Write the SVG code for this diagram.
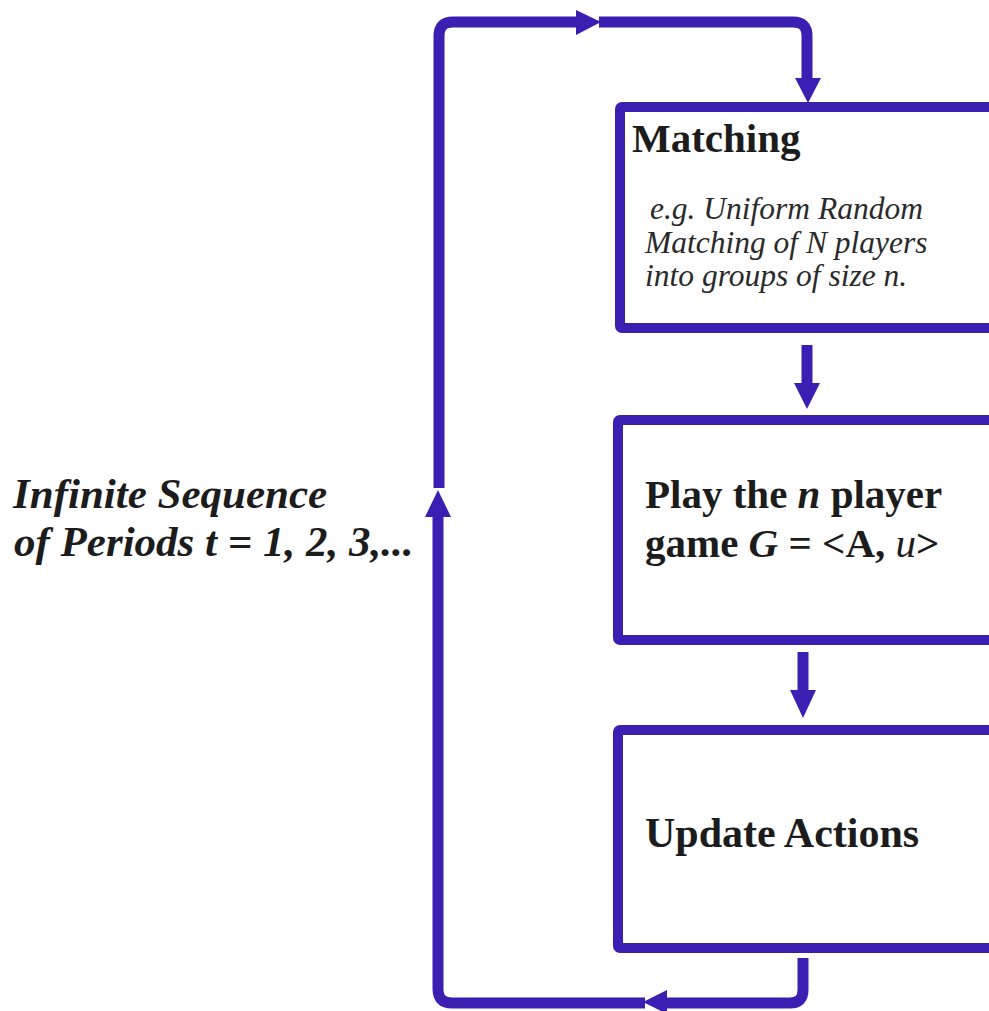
<svg xmlns="http://www.w3.org/2000/svg" width="989" height="1011" viewBox="0 0 989 1011">
  <defs>
    <style>
      .box { fill: #ffffff; stroke: #3b1fb2; stroke-width: 10; }
      .wire { fill: none; stroke: #3b1fb2; stroke-width: 11; stroke-linecap: butt; stroke-linejoin: round; }
      .head { fill: #3b1fb2; }
      .title { font-family: "Liberation Serif", "Times New Roman", serif; font-weight: bold; font-size: 41px; fill: #1c1c1c; }
      .big { font-size: 42px; }
      .note { font-family: "Liberation Serif", "Times New Roman", serif; font-style: italic; font-size: 31.5px; fill: #2a2a2a; }
      .side { font-family: "Liberation Serif", "Times New Roman", serif; font-style: italic; font-weight: bold; font-size: 43px; fill: #1c1c1c; }
    </style>
  </defs>
  <rect x="0" y="0" width="989" height="1011" fill="#ffffff"/>

  <!-- period loop and step arrows -->
  <g id="connectors">
    <!-- from Update Actions back round to Matching -->
    <path class="wire" d="M803,958 V990 Q803,1003 790,1003 H666"/>
    <polygon class="head" points="643,1002 667,990 667,1014"/>
    <path class="wire" d="M645,1003 H452 Q438,1003 438,989 V516"/>
    <polygon class="head" points="438,490 425,517 451,517"/>
    <path class="wire" d="M439,488 V36 Q439,22 453,22 H577"/>
    <polygon class="head" points="601,22 576,10 576,35"/>
    <path class="wire" d="M599,22 H793 Q807,22 807,36 V79"/>
    <polygon class="head" points="808,103 795,78 821,78"/>
    <!-- Matching to Play -->
    <path class="wire" d="M807,345 V385"/>
    <polygon class="head" points="807,409 794,383 820,383"/>
    <!-- Play to Update -->
    <path class="wire" d="M803,652 V692"/>
    <polygon class="head" points="803,718 790,690 816,690"/>
  </g>

  <g id="matching">
    <rect class="box" x="620" y="107" width="374" height="221" rx="2"/>
    <text class="title" x="632" y="152">Matching</text>
    <text class="note" x="650" y="219">e.g. Uniform Random</text>
    <text class="note" x="645" y="253">Matching of N players</text>
    <text class="note" x="645" y="286">into groups of size n.</text>
  </g>

  <g id="play">
    <rect class="box" x="618" y="420" width="376" height="220" rx="2"/>
    <text class="title" x="645" y="508">Play the <tspan font-style="italic">n</tspan> player</text>
    <text class="title" x="645" y="557">game <tspan font-style="italic">G</tspan> = &lt;A, <tspan font-style="italic" font-weight="normal">u</tspan>&gt;</text>
  </g>

  <g id="update">
    <rect class="box" x="618" y="730" width="376" height="218" rx="2"/>
    <text class="title big" x="645" y="847">Update Actions</text>
  </g>

  <g id="periods">
    <text class="side" x="13" y="508">Infinite Sequence</text>
    <text class="side" x="14" y="556">of Periods t = 1, 2, 3,...</text>
  </g>
</svg>
